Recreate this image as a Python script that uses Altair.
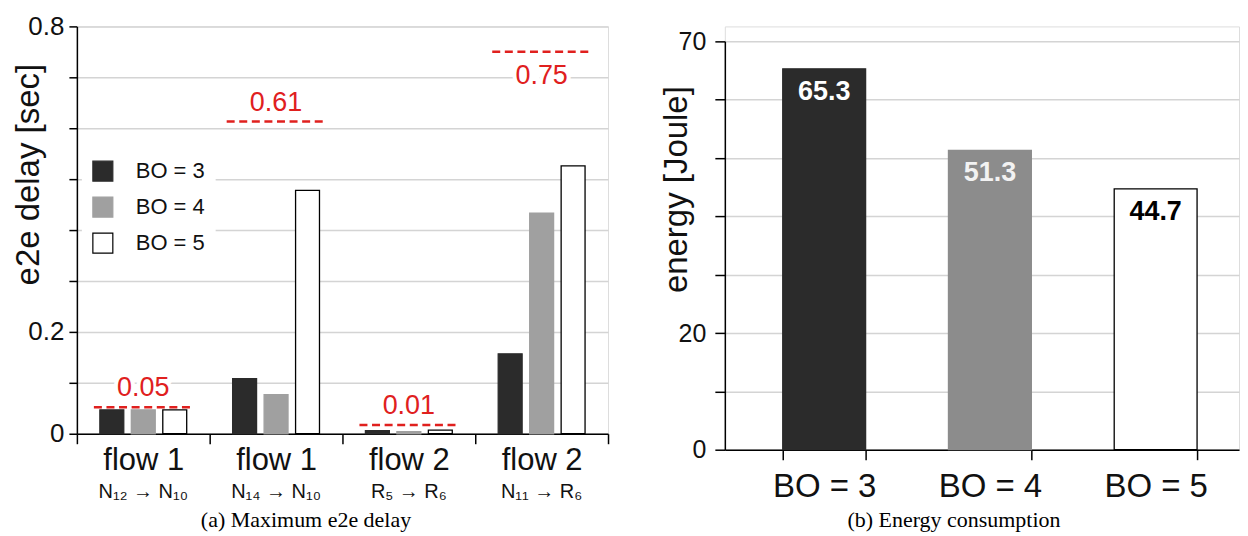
import altair as alt
import pandas as pd

# ---------------- data ----------------
flow_keys = ["f1a", "f1b", "f2a", "f2b"]
flow_names = ["flow 1", "flow 1", "flow 2", "flow 2"]
flow_paths = ["N₁₂ → N₁₀", "N₁₄ → N₁₀", "R₅ → R₆", "N₁₁ → R₆"]
bo_levels = ["BO = 3", "BO = 4", "BO = 5"]

delay_bo3 = [0.047, 0.108, 0.006, 0.157]
delay_bo4 = [0.047, 0.077, 0.004, 0.433]
delay_bo5 = [0.047, 0.478, 0.007, 0.526]
deadline_values = [0.052, 0.613, 0.017, 0.750]
deadline_labels = ["0.05", "0.61", "0.01", "0.75"]

energy_values = [65.3, 51.3, 44.7]
energy_labels = ["65.3", "51.3", "44.7"]

delay_ticks = [0, 0.1, 0.2, 0.3, 0.4, 0.5, 0.6, 0.7, 0.8]
delay_labelled = [0, 0.2, 0.8]
energy_ticks = [0, 10, 20, 30, 40, 50, 60, 70]
energy_labelled = [0, 20, 70]

caption_a = "(a) Maximum e2e delay"
caption_b = "(b) Energy consumption"

# ---------------- tables ----------------
rows = []
for i, k in enumerate(flow_keys):
    for bo, vals in zip(bo_levels, [delay_bo3, delay_bo4, delay_bo5]):
        rows.append({"flow": k, "bo": bo, "delay": vals[i]})
delay_df = pd.DataFrame(rows)
deadline_df = pd.DataFrame({"flow": flow_keys, "delay": deadline_values, "label": deadline_labels})
energy_df = pd.DataFrame({"bo": bo_levels, "energy": energy_values, "label": energy_labels})

SANS = "Liberation Sans"
SERIF = "Liberation Serif"
RED = "#e0201e"


def arr(xs):
    return "[" + ",".join(repr(x) if isinstance(x, str) else str(x) for x in xs) + "]"


name_expr = f"{arr(flow_names)}[indexof({arr(flow_keys)}, datum.value)]"
path_expr = f"{arr(flow_paths)}[indexof({arr(flow_keys)}, datum.value)]"
left_lab_expr = f"indexof({arr(delay_labelled)}, datum.value) >= 0 ? datum.label : ''"
right_lab_expr = f"indexof({arr(energy_labelled)}, datum.value) >= 0 ? datum.label : ''"

xscale_left = alt.Scale(domain=flow_keys, paddingInner=0, paddingOuter=0)
yscale_left = alt.Scale(domain=[0, 0.8], nice=False)

left_y_axis = alt.Axis(values=delay_ticks, labelExpr=left_lab_expr, format="~g",
                       labelFontSize=26, labelFont=SANS, labelColor="#111", labelPadding=5,
                       tickSize=8, tickColor="black", tickWidth=1.5,
                       domainColor="black", domainWidth=1.5,
                       grid=True, gridColor="#d4d4d4", gridWidth=1.5,
                       title="e2e delay [sec]", titleFontSize=33, titleFont=SANS,
                       titleFontWeight="normal", titleColor="#111",
                       titleX=-31, titleY=148, titleBaseline="bottom")

legend_opts = dict(
    title=None, orient="none", legendX=5, legendY=124, fillColor="white",
    padding=10, symbolType="square", symbolSize=400, symbolStrokeWidth=1.2,
    labelFontSize=22, labelFont=SANS, labelColor="#111", labelOffset=22,
    rowPadding=10,
)

bars_left = alt.Chart(delay_df).mark_bar(strokeWidth=1.3).encode(
    x=alt.X("flow:N", scale=xscale_left, sort=flow_keys,
            axis=alt.Axis(title=None, orient="bottom", tickBand="extent", tickSize=10,
                          tickColor="black", tickWidth=1.5, domainColor="black", domainWidth=1.5,
                          labelExpr=name_expr, labelFontSize=31, labelFont=SANS,
                          labelColor="#111", labelPadding=2, labelAngle=0, grid=False)),
    xOffset=alt.XOffset("bo:N", sort=bo_levels,
                        scale=alt.Scale(domain=bo_levels, paddingInner=0.24, paddingOuter=0.73)),
    y=alt.Y("delay:Q", scale=yscale_left, axis=left_y_axis),
    fill=alt.Fill("bo:N", scale=alt.Scale(domain=bo_levels, range=["#2b2b2b", "#a0a0a0", "#ffffff"]),
                  legend=alt.Legend(**legend_opts)),
    stroke=alt.Stroke("bo:N", scale=alt.Scale(domain=bo_levels, range=["#2b2b2b", "#a0a0a0", "#000000"]),
                      legend=alt.Legend(**legend_opts)),
)

rules_left = alt.Chart(deadline_df).mark_rule(color=RED, strokeWidth=2.5, strokeDash=[8, 4.6]).encode(
    x=alt.X("flow:N", scale=xscale_left, sort=flow_keys, bandPosition=0.128,
            axis=alt.Axis(orient="bottom", domain=False, ticks=False, tickSize=0,
                          labelExpr=path_expr, labelFontSize=20, labelFont=SANS,
                          labelColor="#111", labelPadding=48, labelAngle=0, grid=False,
                          title=caption_a, titleFont=SERIF, titleFontSize=22,
                          titleFontWeight="normal", titleColor="black",
                          titleX=229, titleY=86, titleBaseline="middle")),
    x2=alt.X2("flow:N", bandPosition=0.88),
    y=alt.Y("delay:Q", scale=yscale_left, axis=left_y_axis),
)

above = alt.datum.flow != flow_keys[3]
below = alt.datum.flow == flow_keys[3]


def red_text(cond, dy, halo):
    kw = dict(dy=dy, fontSize=27, font=SANS, baseline="middle", align="center")
    if halo:
        kw.update(stroke="white", strokeWidth=8, color="white")
    else:
        kw.update(color=RED)
    return alt.Chart(deadline_df).transform_filter(cond).mark_text(**kw).encode(
        x=alt.X("flow:N", scale=xscale_left, sort=flow_keys, axis=None),
        y=alt.Y("delay:Q", scale=yscale_left, axis=left_y_axis),
        text="label:N",
    )


left = alt.layer(
    bars_left, rules_left,
    red_text(above, -19, True), red_text(below, 24, True),
    red_text(above, -19, False), red_text(below, 24, False),
).resolve_axis(x="independent").properties(width=532, height=408)

# ---------------- right panel ----------------
xscale_right = alt.Scale(domain=bo_levels, paddingInner=0.5, paddingOuter=0.3012, align=0.58)
yscale_right = alt.Scale(domain=[0, 70], nice=False, range=[424, 15])

right_x_axis = alt.Axis(orient="bottom", tickBand="extent", tickSize=10, tickColor="black",
                        tickWidth=1.5, domainColor="black", domainWidth=1.5,
                        labelFontSize=33, labelFont=SANS, labelColor="#111", labelPadding=11,
                        labelAngle=0, grid=False,
                        title=caption_b, titleFont=SERIF, titleFontSize=22,
                        titleFontWeight="normal", titleColor="black",
                        titleX=229, titleY=70, titleBaseline="middle")
right_y_axis = alt.Axis(values=energy_ticks, labelExpr=right_lab_expr, format="d",
                        labelFontSize=25, labelFont=SANS, labelColor="#111", labelPadding=9,
                        tickSize=10, tickColor="black", tickWidth=1.5,
                        domainColor="black", domainWidth=1.5,
                        grid=True, gridColor="#d4d4d4", gridWidth=1.5,
                        title="energy [Joule]", titleFontSize=33, titleFont=SANS,
                        titleFontWeight="normal", titleColor="#111",
                        titleX=-31, titleY=163, titleBaseline="bottom")

bars_right = alt.Chart(energy_df).mark_bar(strokeWidth=1.3).encode(
    x=alt.X("bo:N", scale=xscale_right, sort=bo_levels, axis=right_x_axis),
    y=alt.Y("energy:Q", scale=yscale_right, axis=right_y_axis),
    fill=alt.Fill("bo:N", scale=alt.Scale(domain=bo_levels, range=["#2b2b2b", "#8c8c8c", "#ffffff"]),
                  legend=None),
    stroke=alt.Stroke("bo:N", scale=alt.Scale(domain=bo_levels, range=["#2b2b2b", "#8c8c8c", "#000000"]),
                      legend=None),
)

text_right = alt.Chart(energy_df).mark_text(
    dy=23, fontSize=27, font=SANS, fontWeight="bold", baseline="middle", align="center"
).encode(
    x=alt.X("bo:N", scale=xscale_right, sort=bo_levels, axis=right_x_axis),
    y=alt.Y("energy:Q", scale=yscale_right, axis=right_y_axis),
    text="label:N",
    color=alt.Color("bo:N", scale=alt.Scale(domain=bo_levels, range=["#ffffff", "#f2f2f2", "#000000"]),
                    legend=None),
)

right = alt.layer(bars_right, text_right).properties(width=515, height=424)

chart = alt.hconcat(left, right, spacing=117, bounds="flush").resolve_scale(
    fill="independent", stroke="independent", color="independent", x="independent", y="independent"
).properties(
    padding={"left": 4, "top": 4, "right": 0, "bottom": 0}
).configure_view(strokeWidth=0, stroke="transparent").configure(font=SANS)

chart.save("out.html", embed_options={"renderer": "svg", "actions": False})
